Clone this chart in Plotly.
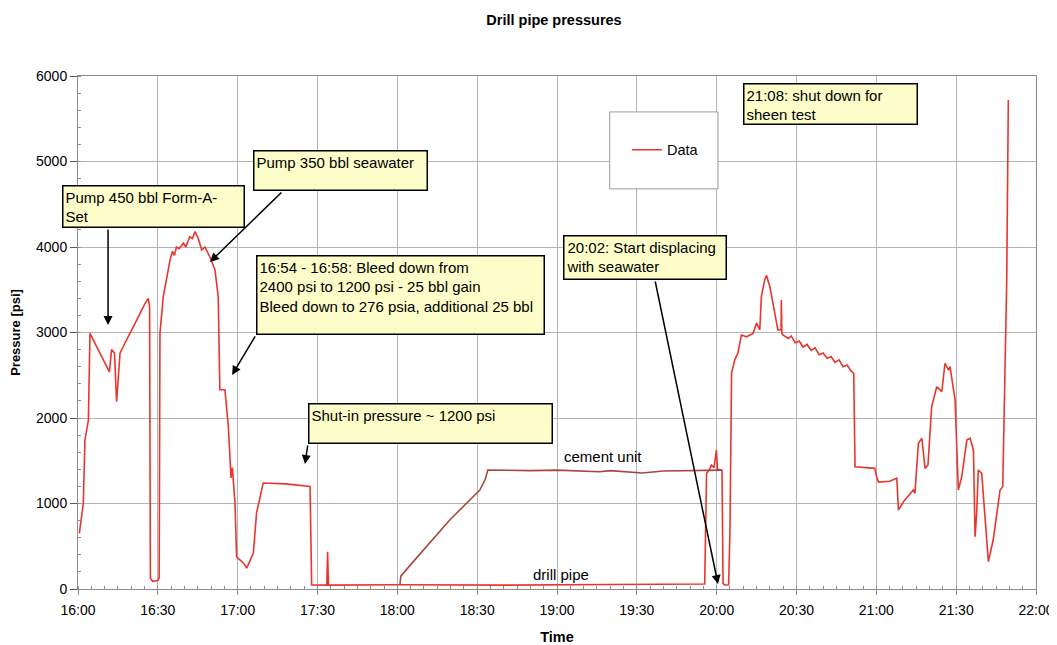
import plotly.graph_objects as go

# minutes after 16:00 and pressure [psi]
drill_min = [0.5, 2.0, 2.6, 3.9, 4.5, 5.8, 7.0, 8.3, 9.5, 10.8, 11.8, 12.6, 13.7, 14.5,
             15.8, 17.7, 19.0, 20.2, 21.5, 23.3, 25.0, 26.4, 26.9, 27.2, 28.0, 30.0, 30.5,
             30.8, 32.0, 34.6, 35.5, 36.2, 37.0, 38.0, 39.6, 40.5, 42.0, 43.0, 44.0, 45.2,
             46.5, 47.7, 49.6, 51.5, 52.7, 53.3, 55.2, 56.5, 57.1, 57.5, 58.0, 58.3, 59.0,
             59.6, 62.1, 63.4, 65.9, 67.1, 69.6, 78.0, 87.2, 87.8, 93.5, 93.8, 94.1, 121.0,
             160.0, 200.0, 235.5, 236.2, 237.0, 238.0, 239.0, 239.9, 240.3, 242.0, 242.4,
             243.0, 244.5, 245.0, 245.6, 246.8, 248.0, 249.3, 251.2, 253.7, 255.0, 256.2,
             256.8, 258.0, 258.7, 260.0, 261.2, 263.0, 264.2, 264.3, 264.5, 265.0, 267.0,
             268.0, 269.5, 271.0, 272.5, 274.0, 275.5, 277.0, 278.5, 280.0, 281.5, 283.0,
             284.5, 286.0, 287.5, 289.0, 290.5, 291.5, 292.0, 299.4, 300.1, 300.8, 305.0,
             307.7, 308.3, 310.2, 313.9, 314.5, 315.8, 317.1, 318.3, 319.4, 320.8, 322.7,
             324.6, 325.8, 327.1, 327.7, 329.6, 330.8, 332.1, 334.0, 335.2, 336.5, 337.1,
             337.7, 338.3, 339.6, 342.1, 343.9, 346.5, 347.5, 349.0, 349.6]
drill_psi = [650, 1000, 1740, 1975, 2990, 2910, 2840, 2760, 2680, 2600, 2540, 2800, 2760, 2190,
             2760, 2880, 2950, 3030, 3110, 3230, 3330, 3400, 3300, 130, 90, 100, 130,
             2990, 3410, 3850, 3950, 3900, 4000, 3980, 4045, 4000, 4120, 4100, 4180, 4100,
             3965, 4000, 3880, 3730, 3415, 2330, 2330, 1900, 1430, 1300, 1420, 1275, 1000,
             375, 305, 245, 420, 890, 1240, 1230, 1200, 47, 45, 436, 45, 50,
             45, 52, 58, 1353, 1380, 1450, 1420, 1625, 1400, 1390, 66,
             47, 50, 690, 2525, 2680, 2760, 2970, 2950, 2990, 3110, 3030,
             3420, 3610, 3670, 3535, 3340, 3030, 3030, 3380, 2990, 2970, 2930,
             2960, 2880, 2900, 2830, 2860, 2790, 2820, 2740, 2760, 2700, 2720,
             2650, 2680, 2600, 2620, 2550, 2523, 1430, 1411, 1313, 1250, 1260,
             1295, 924, 1020, 1158, 1119, 1704, 1763, 1411, 1450, 2133, 2366,
             2308, 2640, 2561, 2600, 2210, 1158, 1313, 1743, 1763, 1626, 612,
             885, 1392, 1353, 320, 573, 1158, 1197, 3614, 5720]

cement_min = [121.0, 121.3, 126.0, 139.7, 151.0, 152.3, 153.0, 154.0, 170.0, 180.0, 190.0,
              196.0, 200.0, 205.0, 212.0, 220.0, 237.0, 242.0]
cement_psi = [60, 150, 320, 807, 1158, 1236, 1280, 1392, 1385, 1390, 1375,
              1372, 1384, 1376, 1357, 1380, 1392, 1390]

tick_min = [0, 30, 60, 90, 120, 150, 180, 210, 240, 270, 300, 330, 360]
tick_text = ["16:00", "16:30", "17:00", "17:30", "18:00", "18:30", "19:00",
             "19:30", "20:00", "20:30", "21:00", "21:30", "22:00"]

FONT = "Arial, Liberation Sans, sans-serif"
BOX = "#fdfdc9"

fig = go.Figure()
fig.add_trace(go.Scatter(x=drill_min, y=drill_psi, mode="lines", name="Data",
                         line=dict(color="#e8362e", width=1.6)))
fig.add_trace(go.Scatter(x=cement_min, y=cement_psi, mode="lines", showlegend=False,
                         line=dict(color="#a8473f", width=1.6)))

# callout boxes: (text, xref, x, y, width, height)
boxes = [
    ("Pump 450 bbl Form-A-<br>Set", "paper", -0.0167, 4725, 176, 36),
    ("Pump 350 bbl seawater", "x", 65.8, 5135, 168, 34),
    ("16:54 - 16:58: Bleed down from<br>2400 psi to 1200 psi - 25 bbl gain<br>"
     "Bleed down to 276 psia, additional 25 bbl", "x", 66.9, 3906, 282, 73),
    ("Shut-in pressure ~ 1200 psi", "x", 86.4, 2175, 238, 34),
    ("20:02: Start displacing<br>with seawater", "x", 182.3, 4140, 157, 38),
    ("21:08: shut down for<br>sheen test", "x", 249.9, 5918, 168, 35),
]
for text, xr, bx, by, w, h in boxes:
    fig.add_annotation(x=bx, y=by, xref=xr, yref="y", text=text, showarrow=False,
                       xanchor="left", yanchor="top", align="left", valign="top",
                       width=w, height=h, bgcolor=BOX, bordercolor="black",
                       borderwidth=1.5, borderpad=2,
                       font=dict(family=FONT, size=15, color="black"))

# arrows: (tail x, tail y, head x, head y)
arrows = [
    (11.3, 4222, 11.3, 3088),
    (77.0, 4655, 49.6, 3825),
    (66.9, 2971, 57.9, 2503),
    (86.4, 1696, 85.3, 1462),
    (216.8, 3614, 240.5, 58),
]
for tx, ty, hx, hy in arrows:
    fig.add_annotation(x=hx, y=hy, ax=tx, ay=ty, xref="x", yref="y", axref="x", ayref="y",
                       text="", showarrow=True, arrowhead=2, arrowsize=1.2,
                       arrowwidth=1.5, arrowcolor="black", standoff=0)

fig.add_annotation(x=197.3, y=1544, text="cement unit", showarrow=False,
                   font=dict(family=FONT, size=15, color="black"))
fig.add_annotation(x=181.5, y=164, text="drill pipe", showarrow=False,
                   font=dict(family=FONT, size=15, color="black"))

# legend frame
fig.add_shape(type="rect", xref="paper", yref="paper", x0=0.555, x1=0.668, y0=0.780, y1=0.930,
              line=dict(color="#9a9a9a", width=1), fillcolor="white", layer="above")

# page body has an 8px margin, so the figure is sized and padded to fit the window
fig.update_layout(
    width=1049, height=637,
    margin=dict(l=70, r=21, t=68, b=56),
    paper_bgcolor="white", plot_bgcolor="white",
    font=dict(family=FONT, size=14, color="black"),
    title=dict(text="<b>Drill pipe pressures</b>", x=0.5205, xanchor="center",
               y=0.981, yanchor="middle", font=dict(size=14.5)),
    legend=dict(x=0.573, y=0.856, xanchor="left", yanchor="middle",
                bgcolor="rgba(0,0,0,0)", font=dict(size=14.5)),
)
fig.update_xaxes(range=[0, 360], tickvals=tick_min, ticktext=tick_text, automargin=False,
                 showgrid=True, gridcolor="#b4b4b4", gridwidth=1,
                 showline=True, linecolor="#8c8c8c", mirror=True, zeroline=False,
                 ticks="outside", ticklen=5, tickcolor="#8c8c8c", ticklabelstandoff=3,
                 tickfont=dict(size=14),
                 minor=dict(dtick=5, ticks="inside", ticklen=3, tickcolor="#8c8c8c", showgrid=False),
                 title=dict(text="<b>Time</b>", standoff=21, font=dict(size=14.5)))
fig.update_yaxes(range=[0, 6000], dtick=1000, automargin=False,
                 showgrid=True, gridcolor="#b4b4b4", gridwidth=1,
                 showline=True, linecolor="#8c8c8c", mirror=True, zeroline=False,
                 ticks="outside", ticklen=7, tickcolor="#555555",
                 tickfont=dict(size=14),
                 minor=dict(dtick=200, ticks="inside", ticklen=3, tickcolor="#8c8c8c", showgrid=False),
                 title=dict(text="<b>Pressure [psi]</b>", standoff=13, font=dict(size=13)))

fig.write_html("out.html")
